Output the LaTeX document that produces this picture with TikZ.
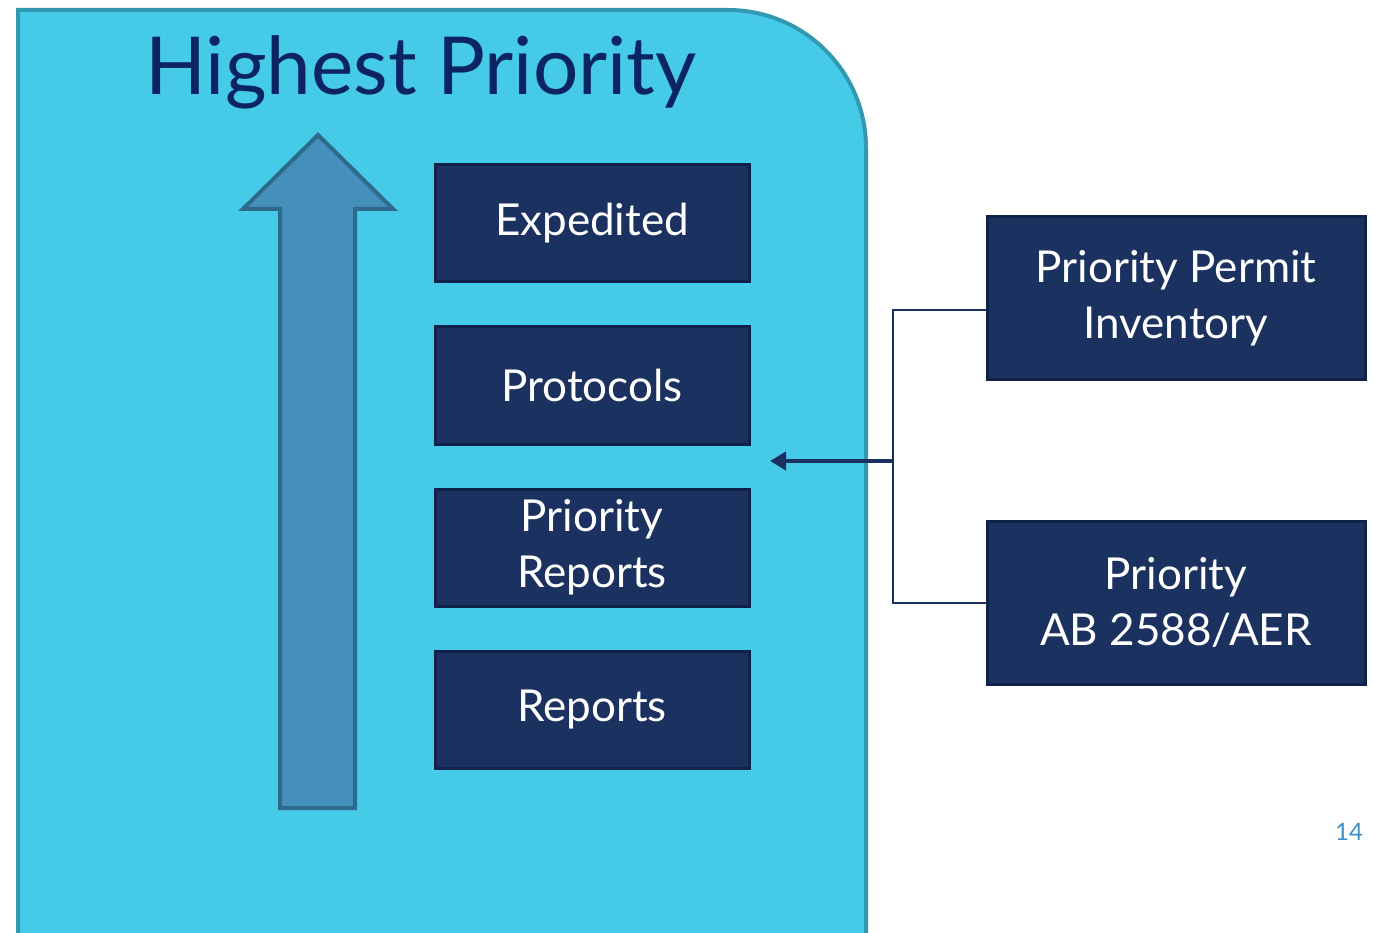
\documentclass[tikz,border=0pt]{standalone}
\usepackage{fontspec}
\setmainfont{Lato}
\usetikzlibrary{arrows.meta,positioning}
\definecolor{panelfill}{HTML}{45CAE8}
\definecolor{paneledge}{HTML}{3399B0}
\definecolor{arrowfill}{HTML}{458FBB}
\definecolor{arrowedge}{HTML}{2E6A8C}
\definecolor{boxfill}{HTML}{1B3260}
\definecolor{boxedge}{HTML}{11224A}
\definecolor{titlecol}{HTML}{0C2461}
\definecolor{numcol}{HTML}{3E8FC3}
\tikzset{
    levelbox/.style={draw=boxedge,line width=3pt,fill=boxfill,text=white,
        minimum width=314pt,minimum height=117pt,align=center,
        font=\fontsize{44}{56}\selectfont},
    sidebox/.style={levelbox,minimum width=378pt,minimum height=163pt},
    link/.style={draw=boxfill,line width=2pt}
}

\begin{document}
\begin{tikzpicture}[x=1pt,y=-1pt]
    \useasboundingbox (0,0) rectangle (1374,933);
    % panel with the rounded corner
    \fill[panelfill] (18,940) -- (18,10) -- (728,10) arc (-90:0:138) -- (866,940) -- cycle;
    \draw[paneledge,line width=4pt] (18,940) -- (18,10) -- (728,10) arc (-90:0:138) -- (866,940);
    \node[text=titlecol,font=\fontsize{80}{90}\selectfont,anchor=base] (title) at (421,95) {Highest Priority};

    % big arrow
    \draw[arrowedge,fill=arrowfill,line width=4pt,line join=miter]
        (280,808) -- (280,209) -- (243,209) -- (318,135) -- (393,209) -- (355,209) -- (355,808) -- cycle;

    \node[levelbox] (exp) at (592,223.5) {Expedited};
    \node[levelbox] (prot) at (592,385.5) {Protocols};
    \node[levelbox] (prep) at (592,547.5) {Priority\\Reports};
    \node[levelbox] (rep) at (592,709.5) {Reports};

    \node[sidebox] (ppi) at (1176,298.5) {Priority Permit\\Inventory};
    \node[sidebox] (pab) at (1176,602.5) {Priority\\AB 2588/AER};

    \coordinate (junc) at (893,461);
    \coordinate (tip) at (770,461);
    \draw[link] ([yshift=-11.5pt]ppi.west) -| (junc);
    \draw[link] (pab.west) -| (junc);
    \draw[link,line width=4pt,-{Triangle[length=16pt,width=18pt]}] (junc) -- (tip);

    \node[text=numcol,font=\fontsize{24}{24}\selectfont] (pnum) at (1349,832) {14};
\end{tikzpicture}
\end{document}
